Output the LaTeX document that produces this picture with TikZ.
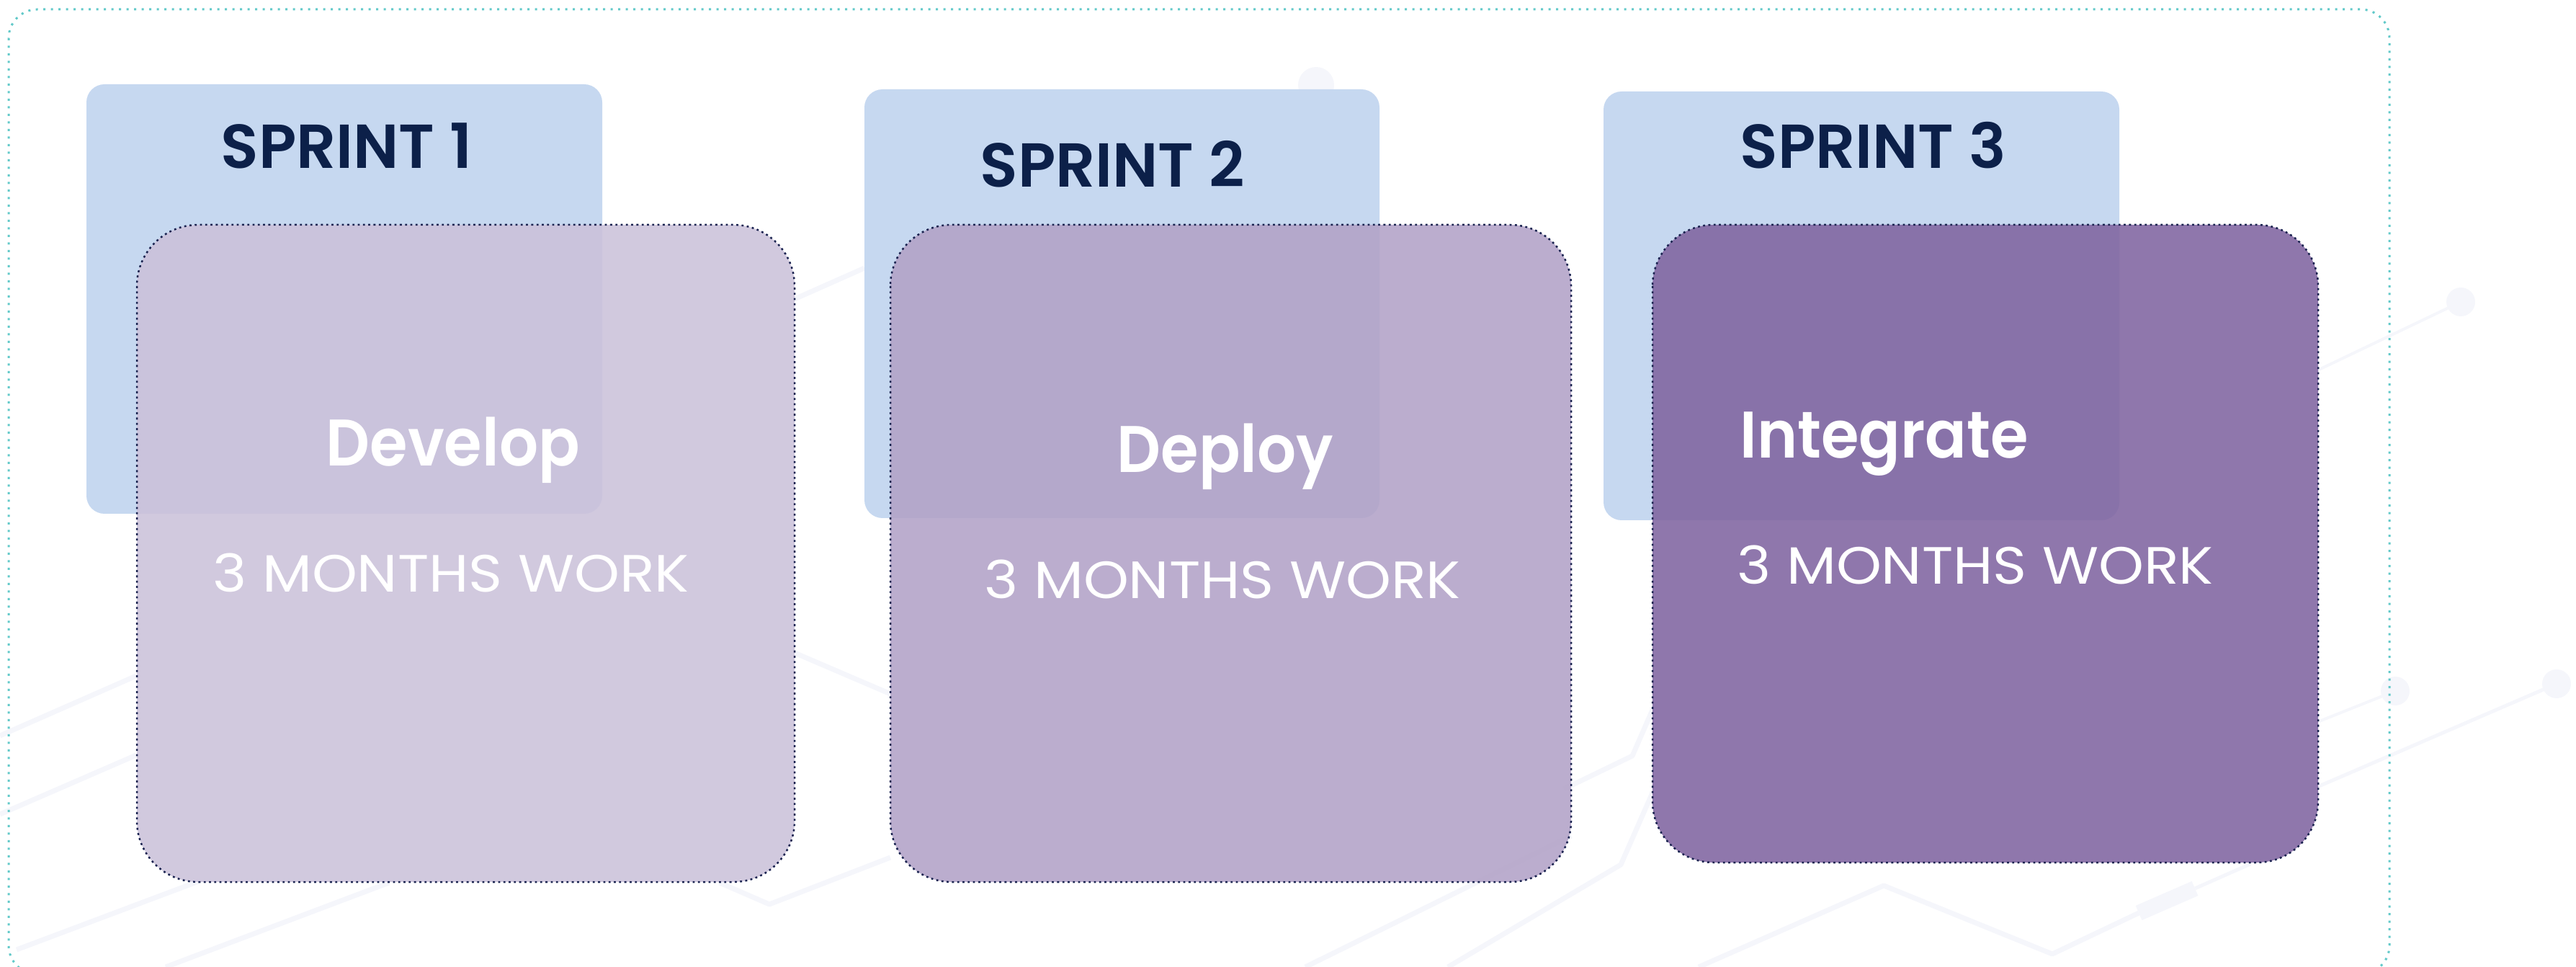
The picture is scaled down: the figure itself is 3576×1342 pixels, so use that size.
\documentclass[tikz,border=0pt]{standalone}
\usepackage{fontspec}
\setmainfont{Poppins}
\newfontfamily\sprintfont{Poppins SemiBold}[FakeStretch=1.0]
\newfontfamily\titlefont{Poppins SemiBold}[FakeStretch=0.93]
\newfontfamily\workfont{Poppins}[FakeStretch=1.10]
\definecolor{sprintblue}{HTML}{C6D8F0}
\definecolor{navy}{HTML}{0C2049}
\definecolor{pone}{RGB}{203,193,218}
\definecolor{ptwo}{RGB}{178,162,199}
\definecolor{pthree}{RGB}{128,100,160}
\definecolor{teal}{HTML}{62C9C9}
\definecolor{dotnavy}{HTML}{1A2350}
\definecolor{bgline}{HTML}{F5F6FB}
\tikzset{
  bgl/.style={draw=bgline, line width=0.7mm, line join=round},
  bgdot/.style={fill=bgline},
  frame/.style={draw=teal, line width=0.3mm, dash pattern=on 0.3mm off 0.75mm, rounded corners=4mm},
  bluebox/.style={fill=sprintblue, rounded corners=2.5mm},
  purplebox/.style={draw=dotnavy, line width=0.25mm, dash pattern=on 0.28mm off 0.45mm, fill opacity=0.88, rounded corners=8.5mm},
  sprinttxt/.style={anchor=base west, inner sep=0pt, text=navy, font=\sprintfont\fontsize{24.5}{28}\selectfont},
  titletxt/.style={anchor=base west, inner sep=0pt, text=white, font=\titlefont\fontsize{26}{30}\selectfont},
  worktxt/.style={anchor=base west, inner sep=0pt, text=white, font=\workfont\fontsize{20.7}{24}\selectfont}
}
\begin{document}
\begin{tikzpicture}[x=0.1mm, y=-0.1mm]
\useasboundingbox (0,0) rectangle (3576,1342);
% faint background network
\draw[bgl] (0,1021) -- (189,938);
\draw[bgl] (0,1130) -- (189,1048);
\draw[bgl] (23,1318) -- (276,1223);
\draw[bgl] (230,1342) -- (540,1225);
\draw[bgl] (1103,906) -- (1236,963);
\draw[bgl] (999,1225) -- (1068,1255) -- (1236,1190);
\draw[bgl] (1103,415) -- (1200,372);
\fill[bgdot] (1827,118) circle (25);
\draw[bgl] (1812,1342) -- (2181,1160);
\draw[bgl] (2010,1342) -- (2250,1200) -- (2294,1100);
\draw[bgl] (2171,1095) -- (2266,1049) -- (2294,985);
\draw[bgl] (2358,1342) -- (2615,1229) -- (2849,1324) -- (2969,1267);
\draw[draw=bgline, line width=2.2mm] (2969,1267) -- (3047,1233);
\draw[bgl, line width=0.5mm] (3047,1233) -- (3124,1199);
\draw[bgl, line width=0.4mm] (3416,419) -- (3217,514);
\fill[bgdot] (3416,419) circle (20);
\draw[bgl, line width=0.4mm] (3325,959) -- (3217,1002);
\fill[bgdot] (3325,959) circle (20);
\draw[bgl, line width=0.5mm] (3549,949) -- (3217,1092);
\fill[bgdot] (3549,949) circle (20);
% outer frame
\draw[frame] (12,13) rectangle (3317,1352);
% sprint boxes
\fill[bluebox] (120,117) rectangle (836,713);
\fill[bluebox] (1200,124) rectangle (1915,719);
\fill[bluebox] (2226,127) rectangle (2942,722);
% phase boxes
\draw[purplebox, fill=pone] (190,312) rectangle (1103,1224);
\draw[purplebox, fill=ptwo] (1236,312) rectangle (2181,1224);
\draw[purplebox, fill=pthree] (2294,312) rectangle (3218,1197);
% texts
\node[sprinttxt] (s1) at (306,234) {SPRINT 1};
\node[sprinttxt] (s2) at (1360,260) {SPRINT 2};
\node[sprinttxt] (s3) at (2415,234) {SPRINT 3};
\node[titletxt] (t1) at (452,647) {Develop};
\node[titletxt] (t2) at (1550,656) {Deploy};
\node[titletxt] (t3) at (2415,636) {Integrate};
\node[worktxt] (w1) at (295,822) {3 MONTHS WORK};
\node[worktxt] (w2) at (1366,831) {3 MONTHS WORK};
\node[worktxt] (w3) at (2411,811) {3 MONTHS WORK};
\end{tikzpicture}
\end{document}
